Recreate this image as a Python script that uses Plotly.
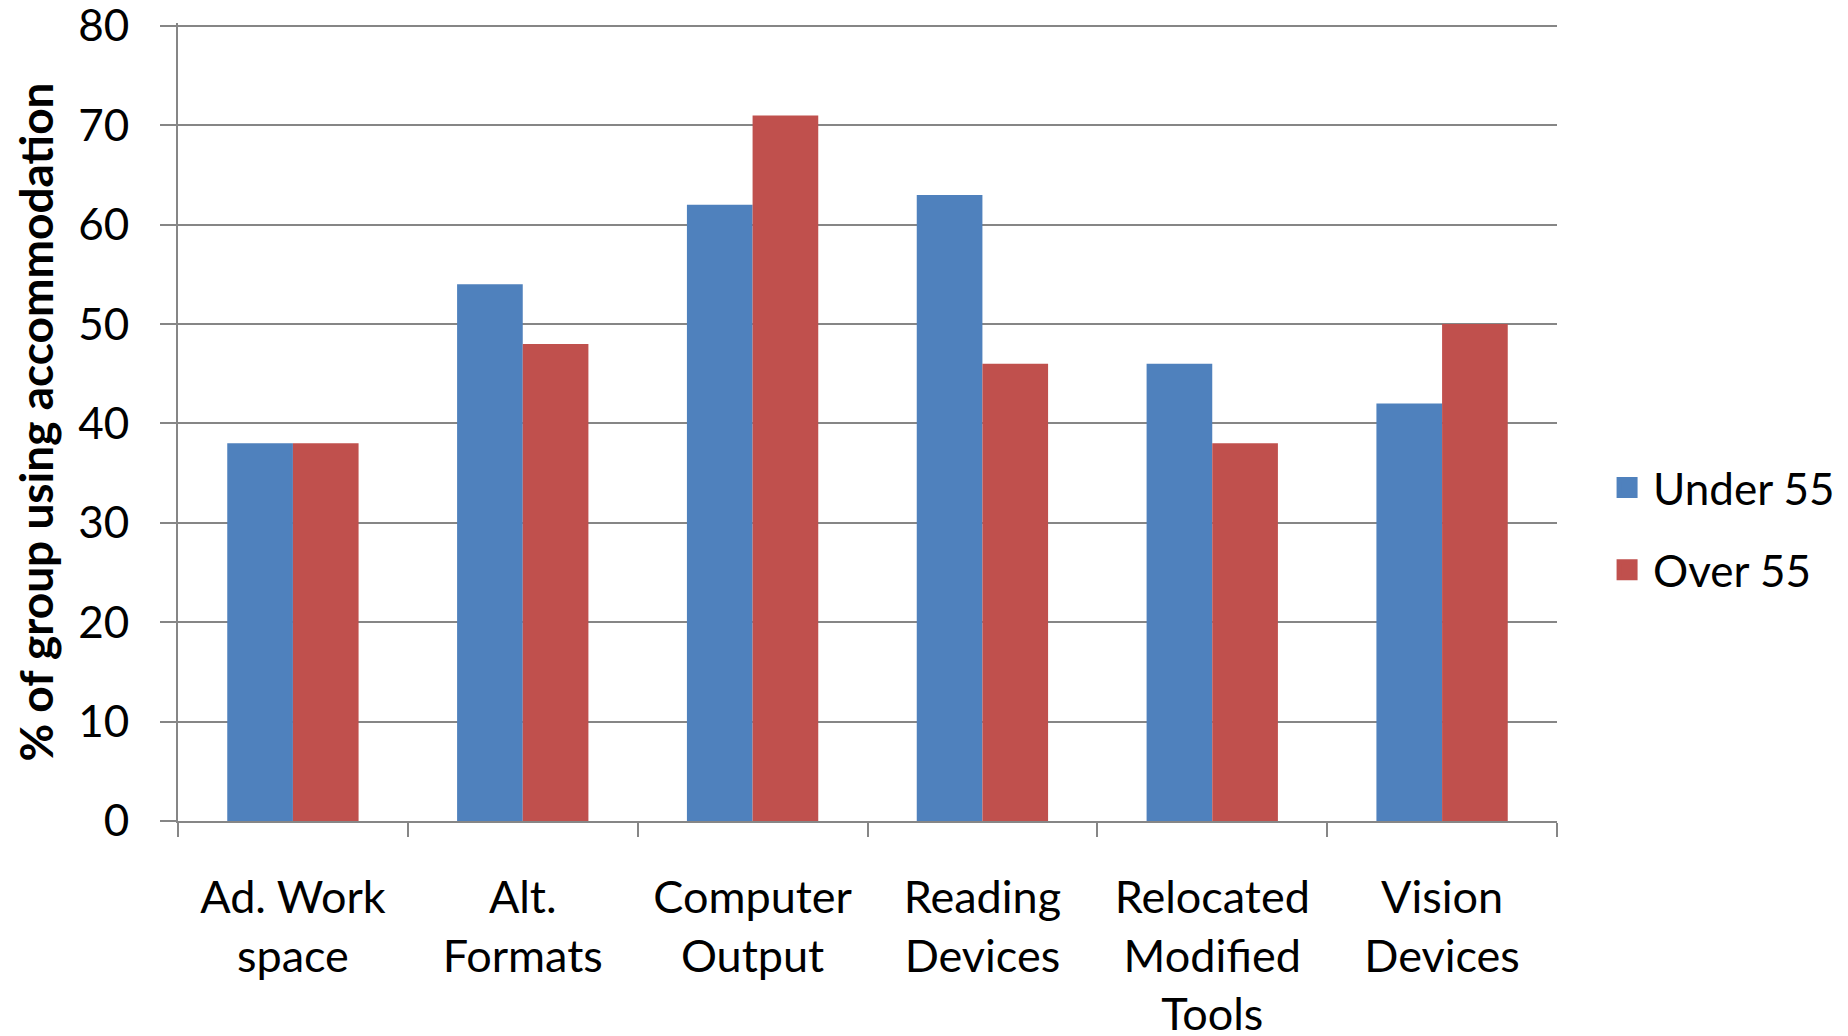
import plotly.graph_objects as go

categories = ["Ad. Work<br>space", "Alt.<br>Formats", "Computer<br>Output", "Reading<br>Devices",
              "Relocated<br>Modified<br>Tools", "Vision<br>Devices"]
under_55 = [38, 54, 62, 63, 46, 42]
over_55 = [38, 48, 71, 46, 38, 50]
y_ticks = [0, 10, 20, 30, 40, 50, 60, 70, 80]
series_names = ["Under 55", "Over 55"]
series_colors = ["#4F81BD", "#C0504D"]

FONT = "Lato"
GRID = "#868686"

fig = go.Figure()
for name, vals, col in zip(series_names, [under_55, over_55], series_colors):
    fig.add_trace(go.Bar(x=categories, y=vals, name=name, marker_color=col,
                         marker_line_width=0, showlegend=False))
# legend entries with larger square symbols
for i, (name, col) in enumerate(zip(series_names, series_colors)):
    fig.add_trace(go.Scatter(x=[None], y=[None], mode="markers", name=name,
                             marker=dict(symbol="square", size=16, color=col,
                                         line=dict(color=col, width=5)),
                             legendgroup=f"g{i}", showlegend=True))

fig.update_layout(
    width=1840, height=1028,
    margin=dict(l=170, r=291, t=15, b=215),
    paper_bgcolor="white", plot_bgcolor="white",
    font=dict(family=FONT, size=44, color="black"),
    barmode="group", bargap=0.4286, bargroupgap=0,
    showlegend=True,
    legend=dict(xref="container", x=0.8658, y=0.366, xanchor="left", yanchor="middle",
                traceorder="grouped", tracegroupgap=22, itemsizing="trace",
                itemwidth=42,
                font=dict(family=FONT, size=44, color="black"),
                bgcolor="rgba(0,0,0,0)"),
)
fig.update_xaxes(
    automargin=False,
    showline=True, linecolor=GRID, linewidth=2,
    ticks="outside", tickson="boundaries", ticklen=14, tickcolor=GRID, tickwidth=2,
    ticklabelstandoff=36, ticklabeloverflow="allow",
    tickfont=dict(family=FONT, size=45, color="black"),
    showgrid=False,
)
fig.update_yaxes(
    automargin=False,
    range=[0, 80.3], tickvals=y_ticks, ticktext=[str(v) for v in y_ticks],
    showline=True, linecolor=GRID, linewidth=2,
    ticks="outside", ticklen=16, tickcolor=GRID, tickwidth=2,
    ticklabelstandoff=22, ticklabeloverflow="allow",
    showgrid=True, gridcolor=GRID, gridwidth=2,
    zeroline=False,
    tickfont=dict(family=FONT, size=44, color="black"),
    title=dict(text="<b>% of group using accommodation</b>",
               font=dict(family=FONT, size=46, color="black"), standoff=22),
)

fig.write_html("out.html")
